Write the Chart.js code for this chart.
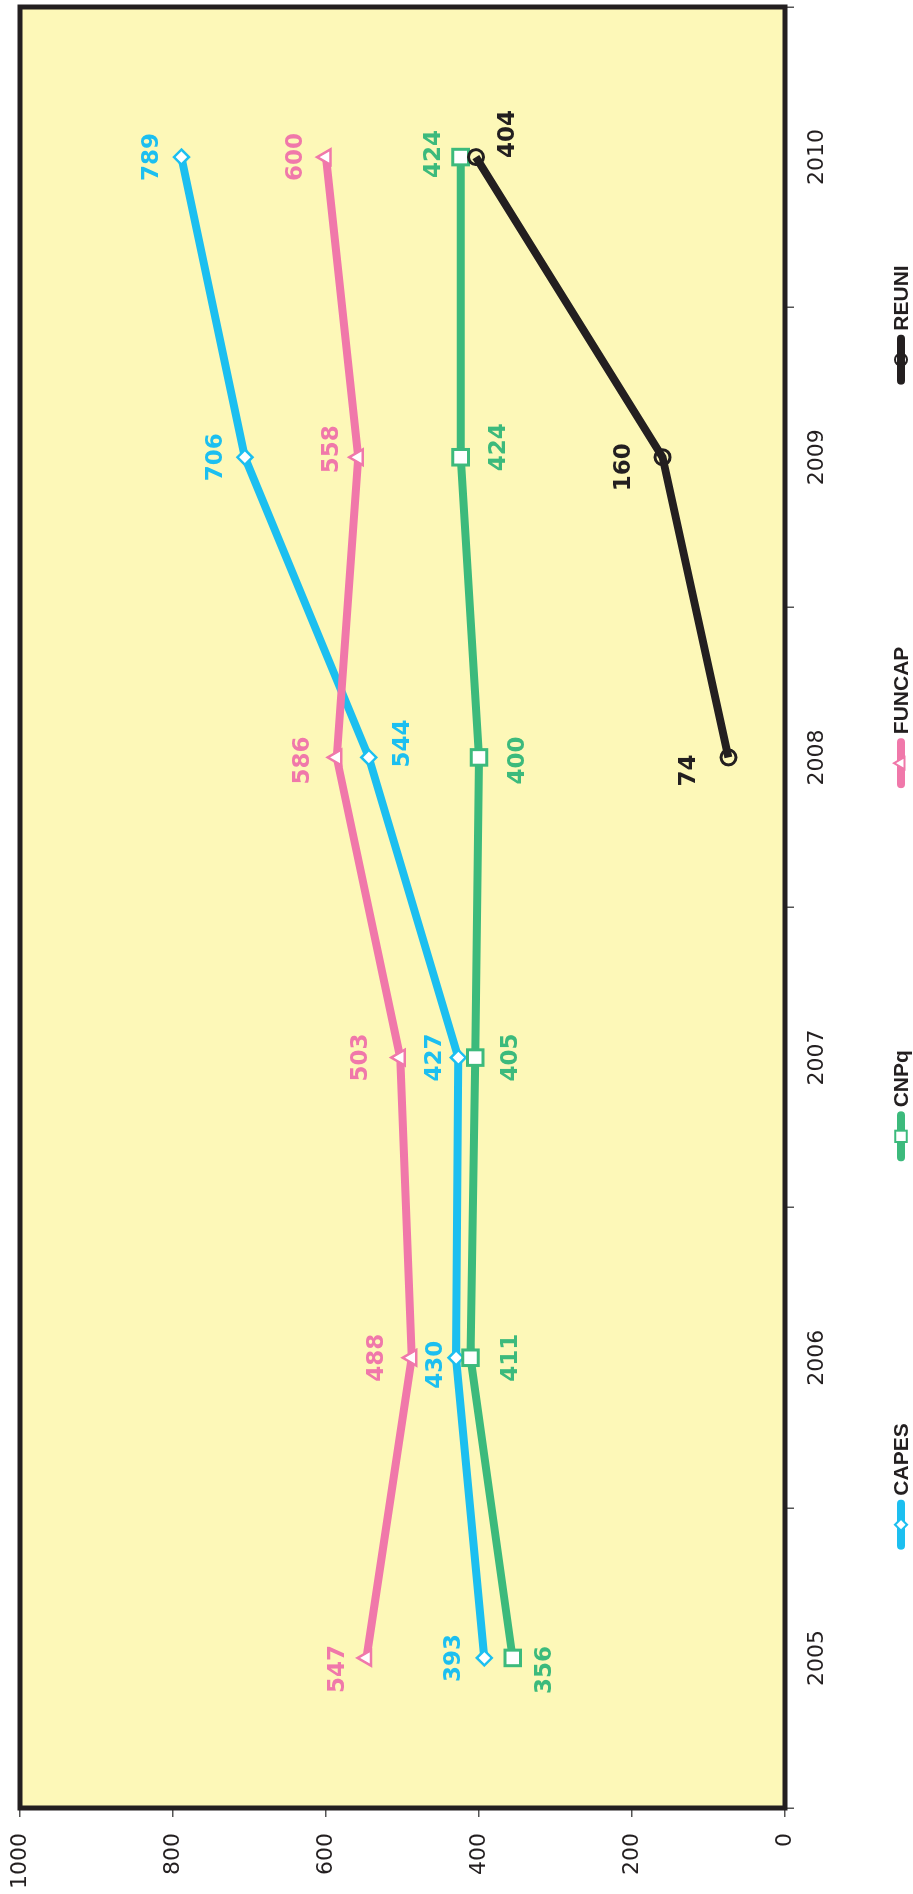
<!DOCTYPE html>
<html><head><meta charset="utf-8">
<script src="https://cdn.jsdelivr.net/npm/chart.js@4/dist/chart.umd.min.js"></script>
<style>
html,body{margin:0;padding:0;background:#fff;overflow:hidden;width:913px;height:1894px;}
#wrap{position:absolute;left:0;top:0;width:1894px;height:913px;transform-origin:0 0;transform:translate(0,1894px) rotate(-90deg);}
canvas{display:block;}
</style></head><body>
<div id="wrap"><canvas id="c" width="1894" height="913"></canvas></div>
<script>
// ---- data ----
const years = ['2005', '2006', '2007', '2008', '2009', '2010'];
const capes = [393, 430, 427, 544, 706, 789];
const cnpq = [356, 411, 405, 400, 424, 424];
const funcap = [547, 488, 503, 586, 558, 600];
const reuni = [null, null, null, 74, 160, 404];
const valueTicks = [0, 200, 400, 600, 800, 1000];
const seriesNames = ['CAPES', 'CNPq', 'FUNCAP', 'REUNI'];

// ---- styles ----
const INK = '#231F20';
const C_CAPES = '#1CBFF0', C_CNPQ = '#3CBA7C', C_FUNCAP = '#F078AA', C_REUNI = '#231F20';

function ds(label, data, color, style, radius, pbw, fill, order, offsets) {
  return {
    label, data, borderColor: color, backgroundColor: color, borderWidth: 8,
    pointStyle: style, pointRadius: radius, pointBorderWidth: pbw,
    pointBackgroundColor: fill, pointBorderColor: color, tension: 0,
    order, labelOffsets: offsets, labelColor: color, fill: false
  };
}

const datasets = [
  ds(seriesNames[0], capes, C_CAPES, 'rectRot', 7.5, 2.5, '#ffffff', 4,
     [[0,-31],[-7,-21],[0,-24],[14,33],[0,-30],[0,-30]]),
  ds(seriesNames[1], cnpq, C_CNPQ, 'rect', 11, 3, '#ffffff', 3,
     [[-12,31],[0,39],[0,35],[-3,38],[10,37],[3,-28]]),
  ds(seriesNames[2], funcap, C_FUNCAP, 'triangle', 9, 2.5, '#ffffff', 2,
     [[-11,-30],[0,-36],[0,-40],[-3,-35],[8,-27],[0,-31]]),
  ds(seriesNames[3], reuni, C_REUNI, 'circle', 7.5, 3, 'rgba(0,0,0,0)', 1,
     [null,null,null,[-13,-40],[-10,-40],[23,31]])
];

function drawMarker(ctx, style, x, y, r, fill, stroke, lw) {
  ctx.beginPath();
  if (style === 'rectRot') {
    ctx.moveTo(x, y - r); ctx.lineTo(x + r, y); ctx.lineTo(x, y + r); ctx.lineTo(x - r, y); ctx.closePath();
  } else if (style === 'rect') {
    const s = r * Math.SQRT1_2; ctx.rect(x - s, y - s, 2 * s, 2 * s);
  } else if (style === 'triangle') {
    ctx.moveTo(x, y - r); ctx.lineTo(x + r * 0.866, y + r * 0.5); ctx.lineTo(x - r * 0.866, y + r * 0.5); ctx.closePath();
  } else {
    ctx.arc(x, y, r, 0, Math.PI * 2);
  }
  if (fill) { ctx.fillStyle = fill; ctx.fill(); }
  ctx.lineWidth = lw; ctx.strokeStyle = stroke; ctx.stroke();
}

const framePlugin = {
  id: 'frame',
  beforeDraw(chart) {
    const { ctx, chartArea: a } = chart;
    ctx.save();
    ctx.fillStyle = '#FDF8B8';
    ctx.fillRect(a.left, a.top, a.right - a.left, a.bottom - a.top);
    ctx.restore();
  },
  beforeDatasetsDraw(chart) {
    const { ctx, chartArea: a } = chart;
    ctx.save();
    ctx.strokeStyle = INK; ctx.lineWidth = 5;
    ctx.strokeRect(a.left, a.top, a.right - a.left, a.bottom - a.top);
    ctx.restore();
  }
};

const labelPlugin = {
  id: 'pointLabels',
  afterDatasetsDraw(chart) {
    const ctx = chart.ctx;
    ctx.save();
    ctx.font = 'bold 23px "DejaVu Sans", Verdana, sans-serif';
    ctx.textAlign = 'center'; ctx.textBaseline = 'middle';
    chart.data.datasets.forEach((d, i) => {
      const meta = chart.getDatasetMeta(i);
      meta.data.forEach((pt, j) => {
        const v = d.data[j];
        if (v === null || v === undefined) return;
        const off = d.labelOffsets[j] || [0, -30];
        ctx.fillStyle = d.labelColor;
        ctx.fillText(String(v), pt.x + off[0], pt.y + off[1] + 1);
      });
    });
    ctx.restore();
  }
};

const legendPlugin = {
  id: 'customLegend',
  afterDraw(chart) {
    const ctx = chart.ctx, a = chart.chartArea;
    ctx.save();
    ctx.font = 'bold 21px "Liberation Sans", Arial, sans-serif';
    const lineLen = 50, textGap = 4, itemGap = 262;
    const items = chart.data.datasets.map(d => ({ d, w: lineLen + textGap + ctx.measureText(d.label).width }));
    const total = items.reduce((s, it) => s + it.w, 0) + itemGap * (items.length - 1);
    let x = (a.left + a.right) / 2 - total / 2;
    const y = 901;
    const lr = { rectRot: 6, rect: 8, triangle: 7, circle: 6 };
    items.forEach(it => {
      const d = it.d;
      ctx.strokeStyle = d.borderColor; ctx.lineWidth = 8; ctx.lineCap = 'round';
      ctx.beginPath(); ctx.moveTo(x + 4, y); ctx.lineTo(x + lineLen - 4, y); ctx.stroke();
      ctx.lineCap = 'butt';
      const f = d.pointBackgroundColor === 'rgba(0,0,0,0)' ? null : d.pointBackgroundColor;
      drawMarker(ctx, d.pointStyle, x + lineLen / 2, y, lr[d.pointStyle], f, d.pointBorderColor, 2);
      ctx.fillStyle = INK; ctx.textAlign = 'left'; ctx.textBaseline = 'middle';
      ctx.fillText(d.label, x + lineLen + textGap, y + 1);
      x += it.w + itemGap;
    });
    ctx.restore();
  }
};

new Chart(document.getElementById('c'), {
  type: 'line',
  data: { labels: years, datasets },
  options: {
    responsive: false, animation: false, devicePixelRatio: 1,
    layout: { autoPadding: false, padding: { top: 20, right: 7, left: 0, bottom: 0 } },
    plugins: { legend: { display: false }, tooltip: { enabled: false } },
    scales: {
      x: {
        type: 'category', offset: true,
        grid: { offset: true, drawOnChartArea: false, drawTicks: true, tickLength: 9, color: '#555', lineWidth: 1.5 },
        border: { display: false },
        ticks: { font: { family: '"DejaVu Sans", Verdana, sans-serif', size: 22 }, color: INK, padding: 10, maxRotation: 0, minRotation: 0, autoSkip: false },
        afterFit(s) { s.height = 128; s.paddingLeft = 0; s.paddingRight = 0; s.paddingTop = 0; s.paddingBottom = 0; }
      },
      y: {
        min: 0, max: 1000,
        afterBuildTicks(s) { s.ticks = valueTicks.map(v => ({ value: v })); },
        grid: { drawOnChartArea: false, drawTicks: true, tickLength: 9, color: '#555', lineWidth: 1.5 },
        border: { display: false },
        ticks: { font: { family: '"DejaVu Sans", Verdana, sans-serif', size: 22 }, color: INK, padding: 16, callback: v => String(v) },
        afterFit(s) { s.width = 86; s.paddingLeft = 0; s.paddingRight = 0; s.paddingTop = 0; s.paddingBottom = 0; }
      }
    }
  },
  plugins: [framePlugin, labelPlugin, legendPlugin]
});
</script>
</body></html>
